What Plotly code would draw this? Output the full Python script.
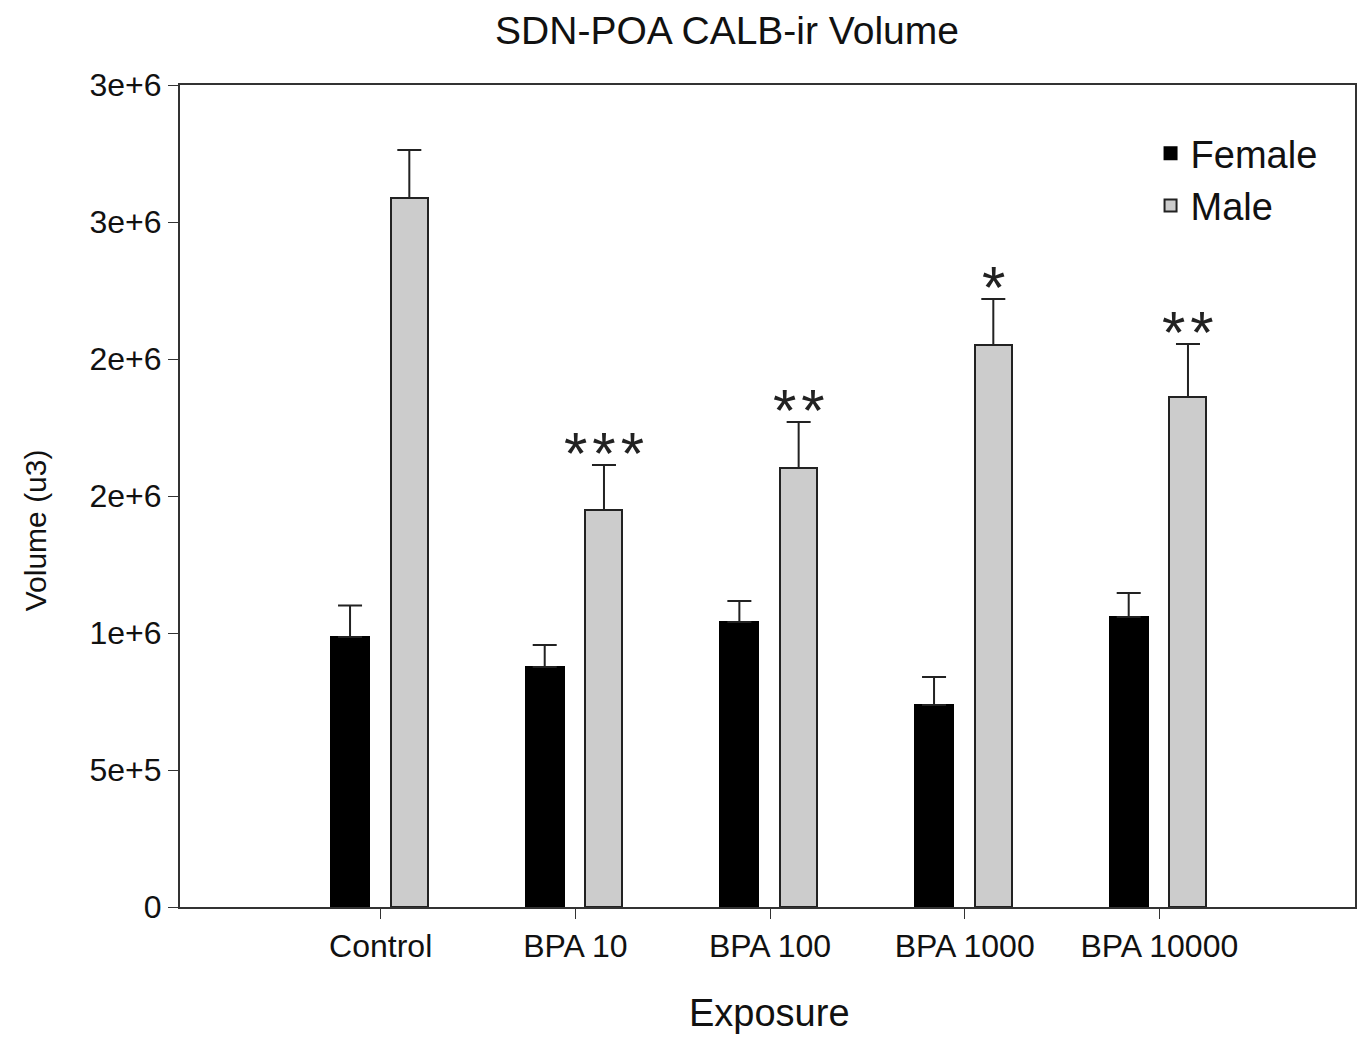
import plotly.graph_objects as go

categories = ["Control", "BPA 10", "BPA 100", "BPA 1000", "BPA 10000"]
female = [0.985e6, 0.876e6, 1.040e6, 0.737e6, 1.058e6]
female_err = [0.115e6, 0.080e6, 0.077e6, 0.102e6, 0.088e6]
male = [2.588e6, 1.449e6, 1.602e6, 2.051e6, 1.861e6]
male_err = [0.175e6, 0.164e6, 0.168e6, 0.168e6, 0.194e6]
signif = ["", "*\u200a*\u200a*", "*\u200a*", "*", "*\u200a*"]
ytick_vals = [0, 5e5, 1e6, 1.5e6, 2e6, 2.5e6, 3e6]
ytick_text = ["0", "5e+5", "1e+6", "2e+6", "2e+6", "3e+6", "3e+6"]

reg = "Liberation Sans, Arial, sans-serif"

fig = go.Figure()
fig.add_trace(go.Bar(
    name="Female", x=categories, y=female, width=0.195, offset=-0.255,
    marker=dict(color="black", line=dict(color="black", width=2)),
    error_y=dict(type="data", symmetric=False, array=female_err,
                 arrayminus=[0] * len(female), color="#222", thickness=2, width=12),
))
fig.add_trace(go.Bar(
    name="Male", x=categories, y=male, width=0.19, offset=0.052,
    marker=dict(color="#cccccc", line=dict(color="#222", width=2)),
    error_y=dict(type="data", symmetric=False, array=male_err,
                 arrayminus=[0] * len(male), color="#222", thickness=2, width=12),
))

for i, s in enumerate(signif):
    if s:
        fig.add_annotation(
            x=i + 0.147, y=male[i] + male_err[i], xref="x", yref="y",
            text=s, showarrow=False, yanchor="bottom", yshift=-24,
            font=dict(size=60, color="#222", family=reg),
        )

# axis titles as annotations (placed like the reference)
fig.add_annotation(text="Volume (u3)", xref="paper", yref="paper",
                   x=-0.1232, y=0.4586, textangle=-90, showarrow=False,
                   xanchor="center", yanchor="middle",
                   font=dict(size=30, color="#111", family=reg))
fig.add_annotation(text="Exposure", xref="paper", yref="paper",
                   x=0.5021, y=-0.129, showarrow=False,
                   xanchor="center", yanchor="middle",
                   font=dict(size=38, color="#111", family=reg))

fig.update_layout(
    width=1363, height=1040,
    paper_bgcolor="white", plot_bgcolor="white",
    margin=dict(l=180, r=6, t=85, b=133),
    title=dict(text="SDN-POA CALB-ir Volume", x=0.5334, xanchor="center",
               y=0.9712, yanchor="middle",
               font=dict(size=39, color="#111", family=reg)),
    showlegend=True,
    legend=dict(x=0.826, y=0.955, xanchor="left", yanchor="top",
                font=dict(size=38, color="#111", family=reg),
                bgcolor="rgba(0,0,0,0)", tracegroupgap=0),
    bargap=0, barmode="group",
)
fig.update_xaxes(
    range=[-1.031, 5.005], showline=True, linecolor="#333", linewidth=2,
    mirror=True, ticks="outside", ticklen=10, tickwidth=1, tickcolor="#333",
    showgrid=False, zeroline=False,
    tickfont=dict(size=32, color="#111", family=reg),
)
fig.update_yaxes(
    range=[0, 3e6], tickvals=ytick_vals, ticktext=ytick_text,
    showline=True, linecolor="#333", linewidth=2, mirror=True,
    ticks="outside", ticklen=10, tickwidth=1, tickcolor="#333",
    showgrid=False, zeroline=False,
    tickfont=dict(size=32, color="#111", family=reg),
)

fig.write_html("out.html", config={"displayModeBar": False},
               post_script="document.body.style.margin='0';")
